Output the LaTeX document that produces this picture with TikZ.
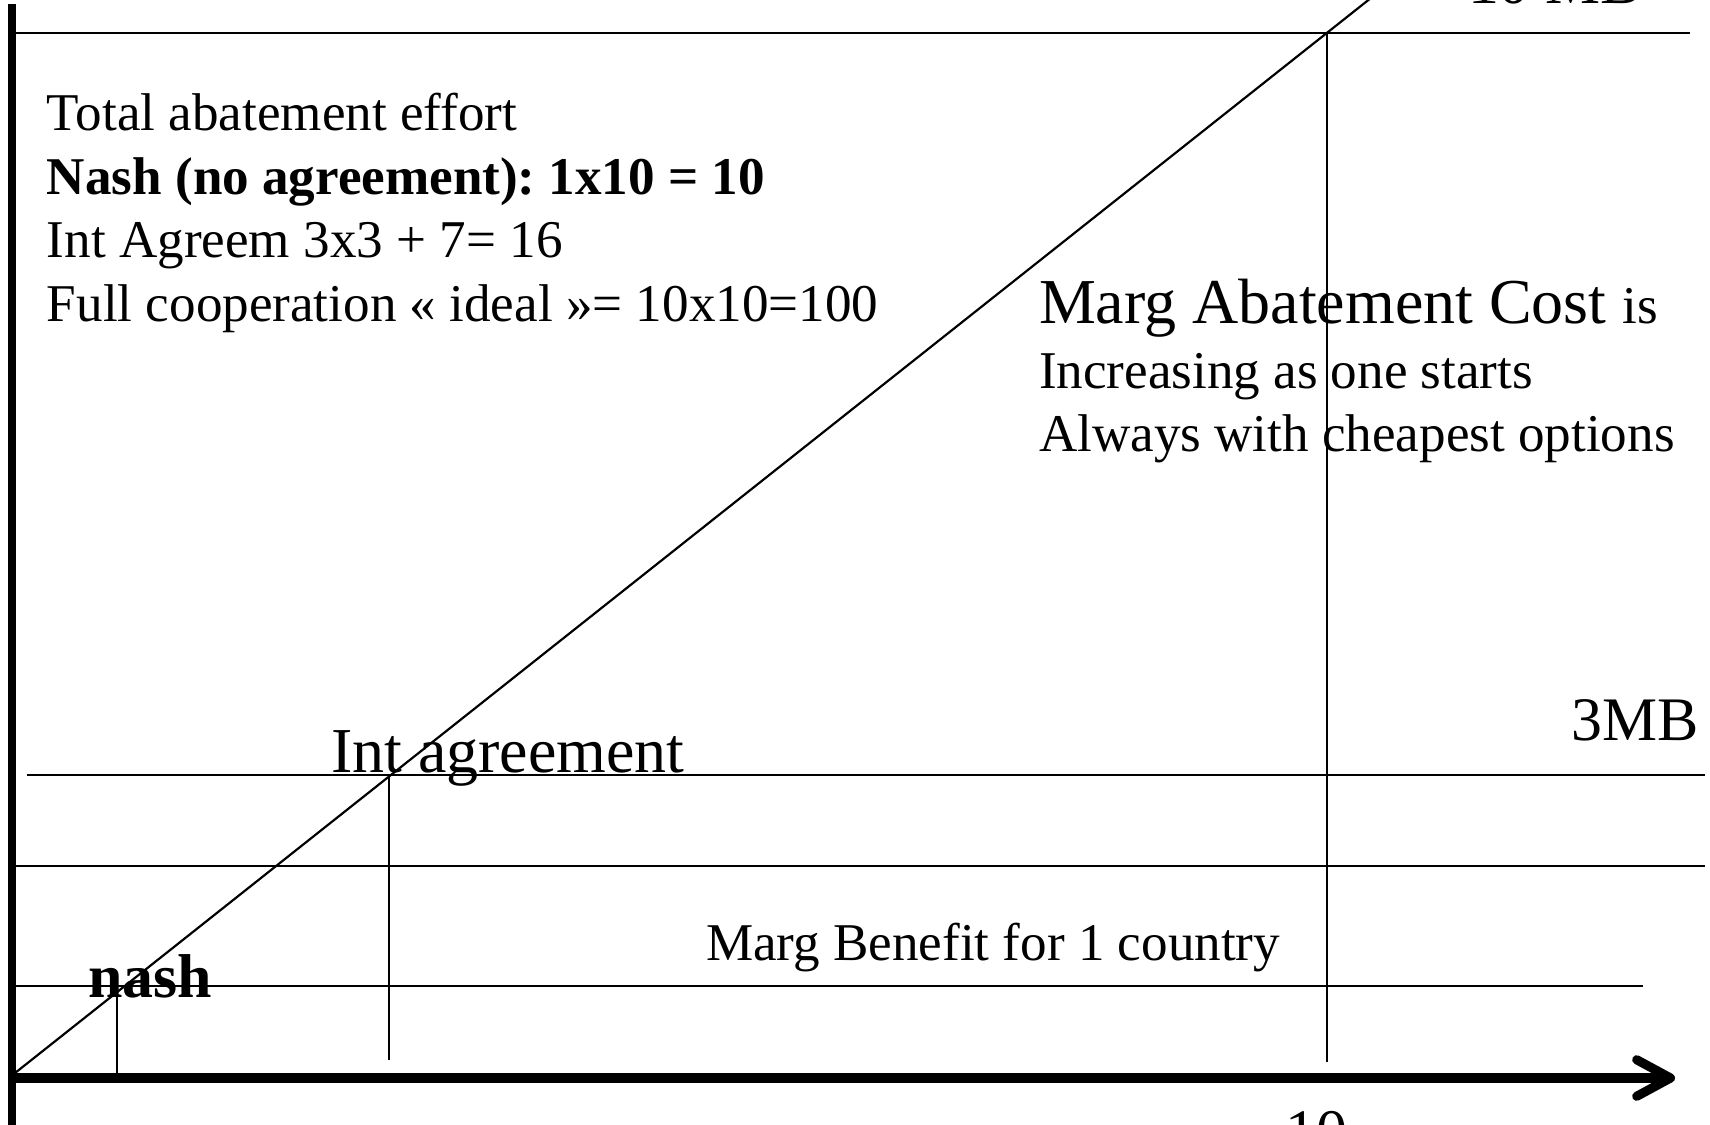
\documentclass[tikz,border=0pt]{standalone}
\usepackage{fontspec}
\setmainfont{Liberation Serif}
\usetikzlibrary{arrows.meta}
\frenchspacing

% font sizes used in the chart
\newcommand{\txtsmall}{\fontsize{15.1}{18}\selectfont}
\newcommand{\txtbig}{\fontsize{18.2}{22}\selectfont}
\newcommand{\txtmid}{\fontsize{17.6}{21}\selectfont}

\tikzset{
  thinline/.style={line width=0.62pt, black},
  vaxisline/.style={line width=2pt, black},
  haxisline/.style={line width=2.6pt, black, line cap=butt,
    -{Straight Barb[length=9.6pt, width=10.4pt, line cap=round, line join=round]}},
  lbl/.style={inner sep=0pt, outer sep=0pt, anchor=base west},
}

\begin{document}
\begin{tikzpicture}[x={(0.01cm,0)}, y={(0,-0.01cm)}]
  % canvas, 1 unit = 1 pixel
  \fill[white] (0,0) rectangle (1710,1124);
  \useasboundingbox (0,0) rectangle (1710,1124);

  % key points
  \coordinate (origin) at (15,1073);
  \coordinate (ytop)   at (12,4);
  \coordinate (ybot)   at (12,1130);
  \coordinate (xleft)  at (8,1078);
  \coordinate (xtip)   at (1675,1078);
  \coordinate (diagend) at (1381,-10);

  % marginal benefit levels
  \coordinate (mb10a) at (15,33);   \coordinate (mb10b) at (1690,33);
  \coordinate (mb3a)  at (27,775);  \coordinate (mb3b)  at (1705,775);
  \coordinate (mbxa)  at (15,866);  \coordinate (mbxb)  at (1705,866);
  \coordinate (mb1a)  at (15,986);  \coordinate (mb1b)  at (1643,986);

  % equilibrium drop lines
  \coordinate (nashtop) at (117,992);  \coordinate (nashbot) at (117,1073);
  \coordinate (inttop)  at (389,775);  \coordinate (intbot)  at (389,1060);
  \coordinate (fulltop) at (1327,33);  \coordinate (fullbot) at (1327,1062);

  % horizontal levels
  \draw[thinline] (mb10a) -- (mb10b);
  \draw[thinline] (mb3a) -- (mb3b);
  \draw[thinline] (mbxa) -- (mbxb);
  \draw[thinline] (mb1a) -- (mb1b);

  % verticals
  \draw[thinline] (nashbot) -- (nashtop);
  \draw[thinline] (intbot) -- (inttop);
  \draw[thinline] (fullbot) -- (fulltop);

  % marginal abatement cost
  \draw[thinline] (origin) -- (diagend);

  % axes
  \draw[vaxisline] (ytop) -- (ybot);
  \draw[haxisline] (xleft) -- (xtip);

  % labels
  \node[lbl] (t1) at (47,130) {\txtsmall Total abatement effort};
  \node[lbl] (t2) at (47,194) {\txtsmall\bfseries Nash (no agreement): 1x10 = 10};
  \node[lbl] (t3) at (47,257) {\txtsmall Int Agreem 3x3 + 7= 16};
  \node[lbl] (t4) at (47,321) {\txtsmall Full cooperation « ideal »= 10x10=100};

  \node[lbl] (c1) at (1039,323) {\txtbig Marg Abatement Cost \txtsmall is};
  \node[lbl] (c2) at (1039,388) {\txtsmall Increasing as one starts};
  \node[lbl] (c3) at (1039,451) {\txtsmall Always with cheapest options};

  \node[lbl] (tenmb) at (1468,3) {\txtmid 10 MB};
  \node[lbl, anchor=base east] (threemb) at (1699,740) {\txtmid 3MB};
  \node[lbl] (intag) at (331,772) {\txtbig Int agreement};
  \node[lbl] (mbone) at (706,960) {\txtsmall Marg Benefit for 1 country};
  \node[lbl] (nash) at (88,997) {\txtmid\bfseries nash};
  \node[lbl, anchor=base] (ten) at (1316,1152) {\txtmid 10};
\end{tikzpicture}
\end{document}
